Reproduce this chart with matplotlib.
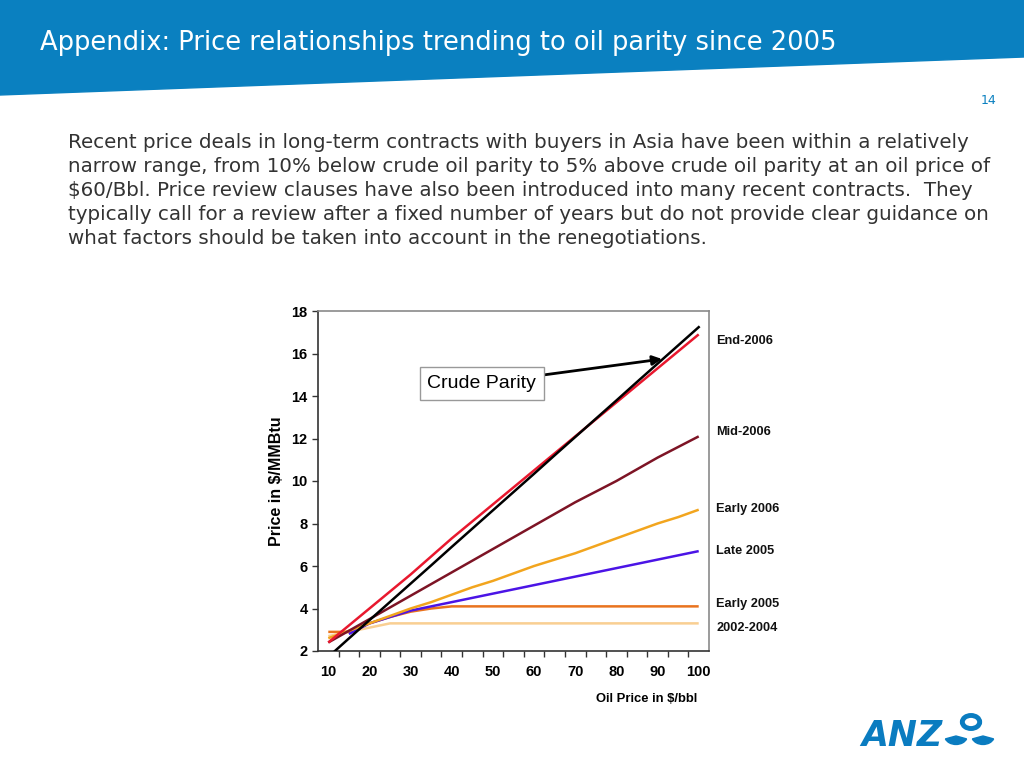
import matplotlib
matplotlib.use('Agg')
import matplotlib.pyplot as plt
import matplotlib.patches as mpatches
import numpy as np

# oil price categories ($/bbl)
oil_price = [10, 15, 20, 25, 30, 35, 40, 45, 50, 55, 60, 65, 70, 75, 80, 85, 90, 95, 100]

crude_parity = [1.72, 2.59, 3.45, 4.31, 5.17, 6.03, 6.90, 7.76, 8.62, 9.48, 10.34,
                11.21, 12.07, 12.93, 13.79, 14.66, 15.52, 16.38, 17.24]
end_2006 = [2.4, 3.2, 4.0, 4.8, 5.6, 6.45, 7.3, 8.1, 8.9, 9.7, 10.5,
            11.3, 12.1, 12.9, 13.7, 14.5, 15.3, 16.1, 16.9]
mid_2006 = [2.4, 2.95, 3.5, 4.05, 4.6, 5.15, 5.7, 6.25, 6.8, 7.35, 7.9,
            8.45, 9.0, 9.5, 10.0, 10.55, 11.1, 11.6, 12.1]
early_2006 = [2.6, 2.95, 3.3, 3.65, 4.0, 4.3, 4.65, 5.0, 5.3, 5.65, 6.0,
              6.3, 6.6, 6.95, 7.3, 7.65, 8.0, 8.3, 8.65]
late_2005 = [None, 2.8, 3.3, 3.6, 3.9, 4.1, 4.3, 4.5, 4.7, 4.9, 5.1,
             5.3, 5.5, 5.7, 5.9, 6.1, 6.3, 6.5, 6.7]
early_2005 = [2.9, 2.9, 3.3, 3.6, 3.85, 4.0, 4.1, 4.1, 4.1, 4.1, 4.1,
              4.1, 4.1, 4.1, 4.1, 4.1, 4.1, 4.1, 4.1]
y_2002_2004 = [2.7, 2.9, 3.1, 3.3, 3.3, 3.3, 3.3, 3.3, 3.3, 3.3, 3.3,
               3.3, 3.3, 3.3, 3.3, 3.3, 3.3, 3.3, 3.3]

series = [
    ('2002-2004', y_2002_2004, '#F9CF92', 3.1),
    ('Early 2005', early_2005, '#E9731E', 4.2),
    ('Late 2005', late_2005, '#4B14E6', 6.7),
    ('Early 2006', early_2006, '#F2A51E', 8.7),
    ('Mid-2006', mid_2006, '#7D1425', 12.3),
    ('End-2006', end_2006, '#E8182E', 16.6),
]

x_labels = ['10', '20', '30', '40', '50', '60', '70', '80', '90', '100']

title = 'Appendix: Price relationships trending to oil parity since 2005'
body_lines = [
    'Recent price deals in long-term contracts with buyers in Asia have been within a relatively',
    'narrow range, from 10% below crude oil parity to 5% above crude oil parity at an oil price of',
    '$60/Bbl. Price review clauses have also been introduced into many recent contracts.  They',
    'typically call for a review after a fixed number of years but do not provide clear guidance on',
    'what factors should be taken into account in the renegotiations.',
]

fig = plt.figure(figsize=(10.24, 7.68), dpi=100)
fig.patch.set_facecolor('white')

# header band
band = mpatches.Polygon([(0, 1), (1, 1), (1, 1 - 57 / 768), (0, 1 - 95 / 768)],
                        closed=True, transform=fig.transFigure, color='#0A80C0', zorder=0)
fig.patches.append(band)
fig.text(40 / 1024, 1 - 43 / 768, title, color='white', fontsize=18.5,
         family='DejaVu Sans', va='center', ha='left')
fig.text(996 / 1024, 1 - 100 / 768, '14', color='#0A80C0', fontsize=9,
         va='center', ha='right')

for i, line in enumerate(body_lines):
    fig.text(68 / 1024, 1 - (143 + i * 23.8) / 768, line, color='#333333',
             fontsize=14.3, family='DejaVu Sans', va='center', ha='left')

# chart
ax = fig.add_axes([318 / 1024, 1 - 651 / 768, 391 / 1024, 340 / 768])
ax.set_xlim(7.5, 102.5)
ax.set_ylim(2, 18)

for name, vals, color, ylab in series:
    xs = [x for x, v in zip(oil_price, vals) if v is not None]
    ys = [v for v in vals if v is not None]
    ax.plot(xs, ys, color=color, lw=1.8, solid_capstyle='butt')
    ax.text(1.018, (ylab - 2) / 16, name, transform=ax.transAxes, fontsize=9.2,
            fontweight='bold', family='Liberation Sans', va='center', ha='left',
            color='#111111')

ax.plot(oil_price, crude_parity, color='black', lw=1.8, zorder=5)

ax.set_yticks(range(2, 19, 2))
ax.set_xticks(np.arange(12.5, 100, 5))
ax.set_xticklabels([])
ax.set_xticks(range(10, 101, 10), minor=True)
ax.set_xticklabels(x_labels, minor=True)
ax.tick_params(axis='x', which='major', direction='out', length=4, width=1, color='#333333')
ax.tick_params(axis='x', which='minor', length=0, pad=10)
ax.tick_params(axis='y', direction='out', length=4, width=1, color='#333333')
for lbl in ax.get_xticklabels(minor=True) + ax.get_yticklabels():
    lbl.set_fontsize(10.5)
    lbl.set_fontweight('bold')
    lbl.set_family('Liberation Sans')

for s in ['top', 'right']:
    ax.spines[s].set_color('#8A8A8A')
    ax.spines[s].set_linewidth(1.2)
for s in ['left', 'bottom']:
    ax.spines[s].set_color('#333333')
    ax.spines[s].set_linewidth(1.2)

ax.set_ylabel('Price in $/MMBtu', fontsize=11.5, fontweight='bold',
              family='Liberation Sans', labelpad=5)
fig.text(697 / 1024, 1 - 699 / 768, 'Oil Price in $/bbl', fontsize=9.4,
         fontweight='bold', family='Liberation Sans', ha='right', va='center')

ax.annotate('Crude Parity', xy=(91.1, 15.74), xytext=(47.3, 14.6),
            fontsize=14, family='Liberation Sans', ha='center', va='center',
            bbox=dict(boxstyle='square,pad=0.4', fc='white', ec='#999999', lw=1),
            arrowprops=dict(arrowstyle='-|>', color='black', lw=2, mutation_scale=14,
                            shrinkA=0, shrinkB=0), zorder=10)

# ANZ logo
fig.text(861 / 1024, 1 - 736 / 768, 'ANZ', color='#0A7CC0', fontsize=25,
         fontweight='bold', style='italic', family='DejaVu Sans', va='center', ha='left')
ring = mpatches.Circle((971 / 1024, 1 - 722 / 768), 0.0085, transform=fig.transFigure,
                       fc='none', ec='#0A7CC0', lw=3.5)
fig.patches.append(ring)
left_leaf = mpatches.Wedge((956 / 1024, 1 - 736 / 768), 0.011, 200, 340,
                           transform=fig.transFigure, color='#0A7CC0')
right_leaf = mpatches.Wedge((983 / 1024, 1 - 736 / 768), 0.011, 200, 340,
                            transform=fig.transFigure, color='#0A7CC0')
fig.patches.append(left_leaf)
fig.patches.append(right_leaf)

fig.savefig('out.png', dpi=100, facecolor='white')
